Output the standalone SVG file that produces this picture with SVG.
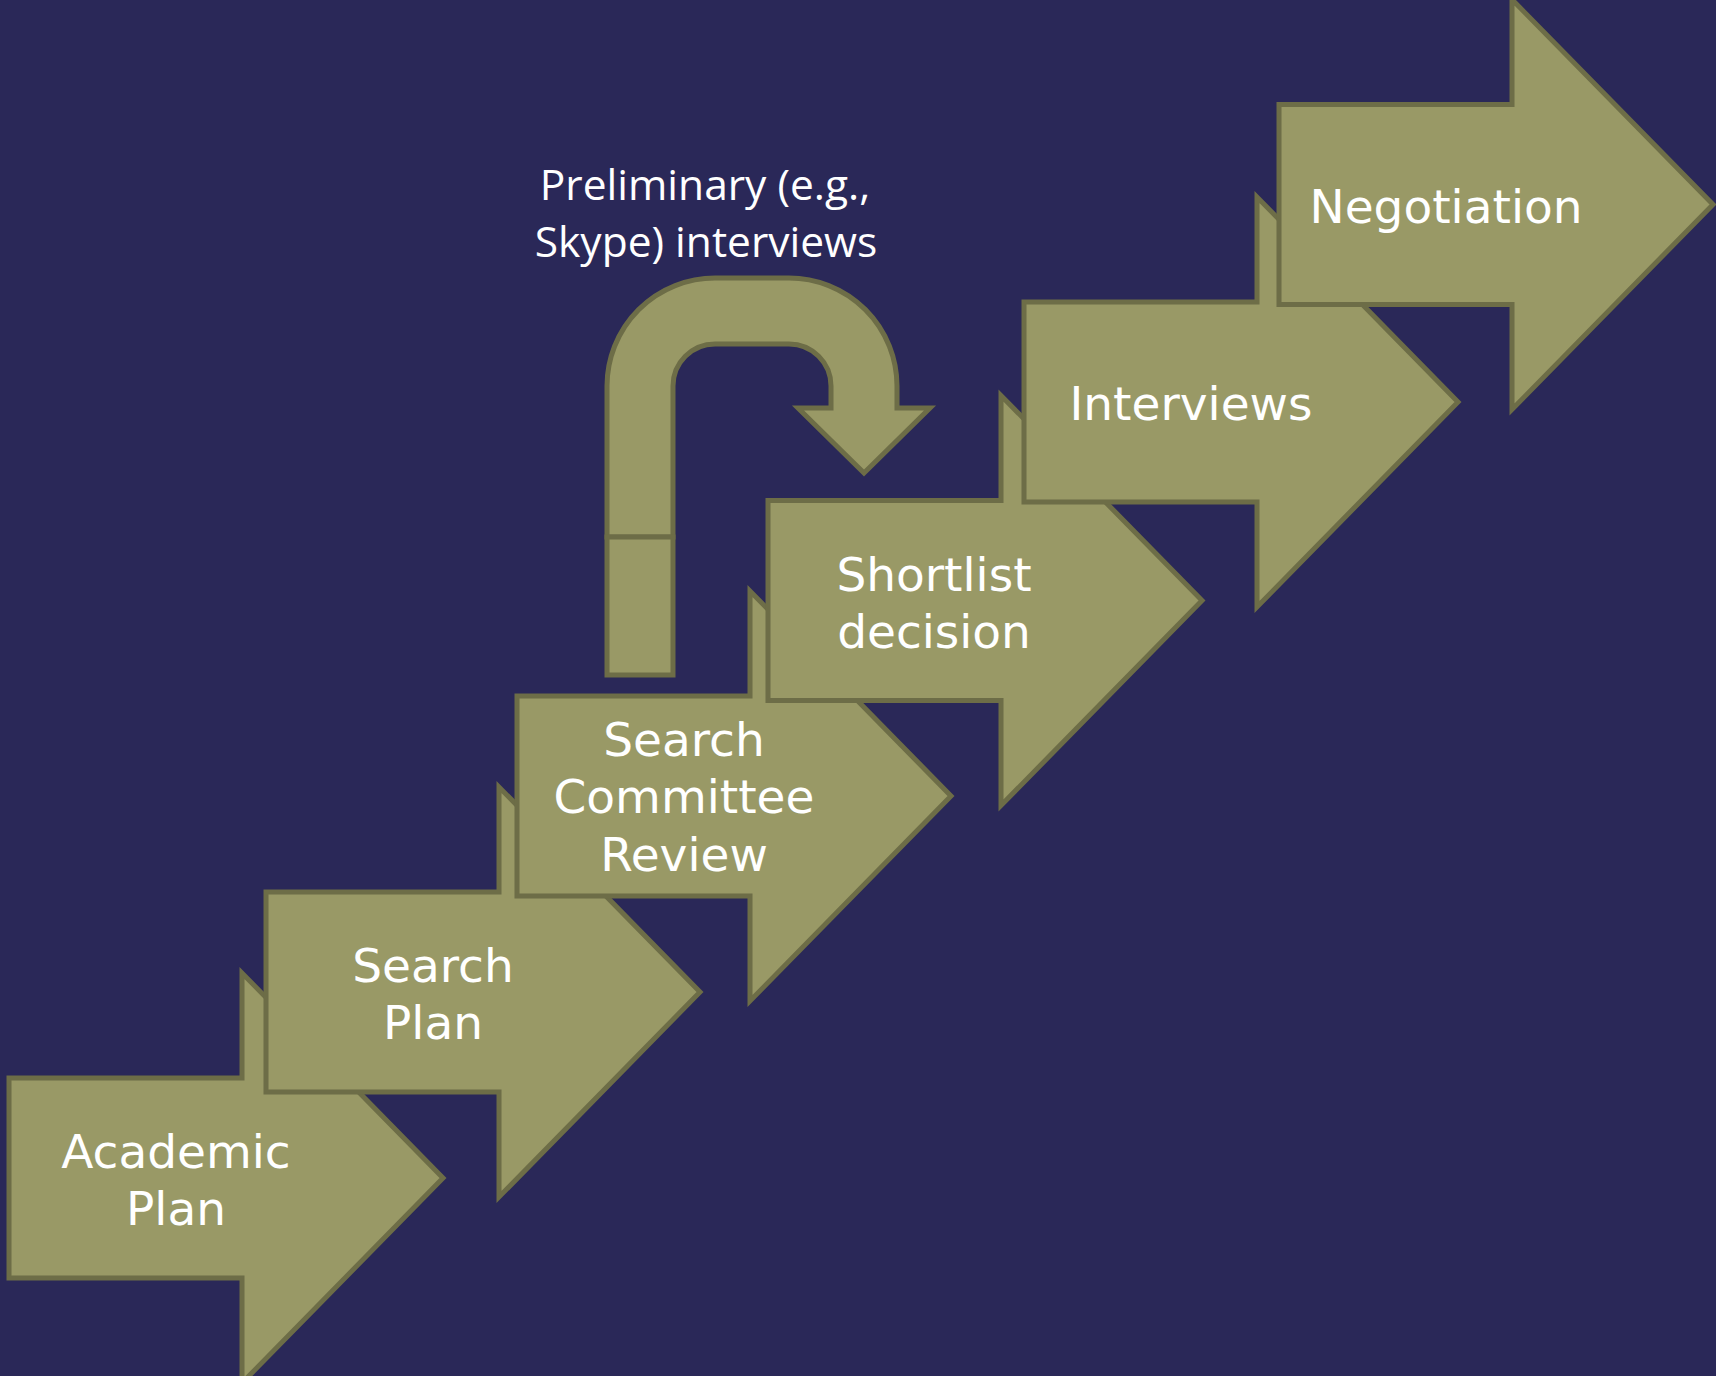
<svg xmlns="http://www.w3.org/2000/svg" width="1716" height="1376" viewBox="0 0 1716 1376">
<style>
.ar{fill:#999966;stroke:#6d6d47;stroke-width:5;stroke-linejoin:miter}
.t{font-family:"DejaVu Sans",sans-serif;font-size:47px;fill:#ffffff;text-anchor:middle}
.p{font-family:"Open Sans",sans-serif;font-size:42.5px;fill:#ffffff;text-anchor:middle}
</style>
<defs>
<path id="a" d="M0,-100 L233,-100 L233,-205 L434,0 L233,205 L233,100 L0,100 Z"/>
</defs>
<rect width="1716" height="1376" fill="#2a2858"/>
<g id="connectors">
<g id="uturn">
<path class="ar" stroke-linejoin="round" d="M607,537 L607,386 A108,108 0 0 1 715,278 L789,278 A108,108 0 0 1 897,386 L897,408 L930,408 L864,473 L798,408 L831,408 L831,386 A42,42 0 0 0 789,344 L715,344 A42,42 0 0 0 673,386 L673,537 Z"/>
<rect class="ar" stroke-linejoin="round" x="607" y="537" width="66" height="138"/>
</g>
</g>
<g id="prelim">
<text class="p" x="705" y="200">Preliminary (e.g.,</text>
<text class="p" x="706" y="257">Skype) interviews</text>
</g>
<g id="academic-plan" transform="translate(9,1178)">
<use href="#a" class="ar"/>
<text class="t" x="167" y="-10">Academic</text>
<text class="t" x="167" y="47">Plan</text>
</g>
<g id="search-plan" transform="translate(266,992)">
<use href="#a" class="ar"/>
<text class="t" x="167" y="-10">Search</text>
<text class="t" x="167" y="47">Plan</text>
</g>
<g id="search-committee-review" transform="translate(517,796)">
<use href="#a" class="ar"/>
<text class="t" x="167" y="-40">Search</text>
<text class="t" x="167" y="17">Committee</text>
<text class="t" x="167" y="75">Review</text>
</g>
<g id="shortlist-decision" transform="translate(768,600.5)">
<use href="#a" class="ar"/>
<text class="t" x="166" y="-10">Shortlist</text>
<text class="t" x="166" y="47">decision</text>
</g>
<g id="interviews" transform="translate(1024,402)">
<use href="#a" class="ar"/>
<text class="t" x="167" y="18">Interviews</text>
</g>
<g id="negotiation" transform="translate(1279,204.5)">
<use href="#a" class="ar"/>
<text class="t" x="167" y="18">Negotiation</text>
</g>
</svg>
